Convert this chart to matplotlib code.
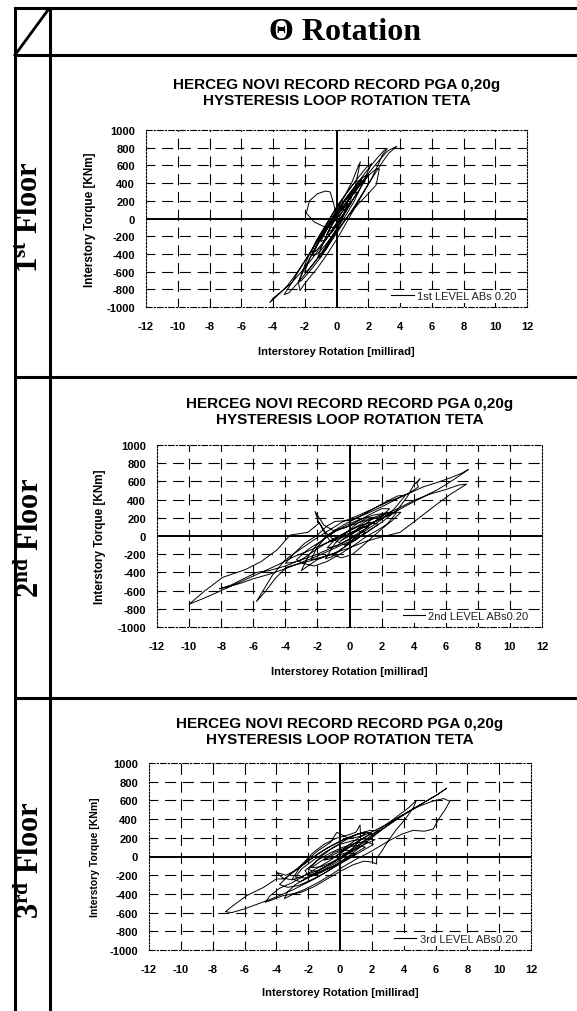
import matplotlib
matplotlib.use("Agg")
import matplotlib.pyplot as plt
from matplotlib.lines import Line2D

plt.rcParams['font.family'] = ['Liberation Sans', 'DejaVu Sans']
plt.rcParams['mathtext.fontset'] = 'custom'
plt.rcParams['mathtext.rm'] = 'Liberation Serif'
plt.rcParams['mathtext.bf'] = 'Liberation Serif:bold'

# ---------------------------------------------------------------- texts
header_text = "Θ Rotation"
floor_labels = [r"$\mathbf{1^{st}}$ Floor", r"$\mathbf{2^{nd}}$ Floor", r"$\mathbf{3^{rd}}$ Floor"]
chart_title = "HERCEG NOVI RECORD RECORD PGA 0,20g\nHYSTERESIS LOOP ROTATION TETA"
x_label = "Interstorey Rotation [millirad]"
y_label = "Interstory Torque [KNm]"
legend_labels = ["1st LEVEL ABs 0.20", "2nd LEVEL ABs0.20", "3rd LEVEL ABs0.20"]

x_ticks = [-12, -10, -8, -6, -4, -2, 0, 2, 4, 6, 8, 10, 12]
y_ticks = [-1000, -800, -600, -400, -200, 0, 200, 400, 600, 800, 1000]

# ---------------------------------------------------------------- data
# 1st floor: interstorey rotation [millirad] and torque [kNm]
floor1_rot = [0.0, 0.3, 0.6, 0.9, 0.6, 0.2, -0.2, -0.6, -0.3, 0.1, 0.6, 1.0, 1.3,
              1.0, 0.5, 0.0, -0.5, -1.0, -0.7, -0.3, -0.2, -0.8, -1.4, -1.9, -1.7,
              -1.2, -0.7, -0.4, -0.2, 0.0, 0.4, 0.9, 1.4, 1.8, 1.5, 1.0, 0.4, -0.2,
              -0.8, -1.2, -1.5, -1.2, -0.7, -0.1, 0.5, 1.1, 1.6, 1.9, 2.2, 1.9, 1.4,
              0.8, 0.1, -0.6, -1.3, -1.9, -2.4, -2.2, -1.7, -1.0, -0.3, 0.4, 1.1,
              1.8, 2.4, 2.9, 3.3, 3.8, 3.6, 3.2, 2.7, 2.1, 1.5, 0.8, 0.1, -0.6,
              -1.3, -1.9, -2.2, -2.4, -2.3, -2.1, -1.8, -1.2, -0.5, 0.2, 0.9, 1.6,
              2.2, 2.6, 2.9, 3.2, 3.0, 2.6, 2.0, 1.4, 0.7, 0.0, -0.7, -1.4, -2.0,
              -2.6, -3.1, -3.6, -4.2, -4.0, -3.5, -2.9, -2.3, -1.6, -0.9, -0.2,
              0.5, 1.2, 1.7, 2.0, 1.7, 1.2, 0.6, -0.1, -0.8, -1.5, -2.2, -2.8,
              -3.3, -3.0, -2.5, -1.9, -1.2, -0.5, 0.2, 0.8, 1.2, 1.5, 1.3, 1.0,
              0.5, -0.1, -0.7, -1.3, -1.7, -2.0, -1.8, -1.4, -0.8, -0.1, 0.6, 1.3,
              2.0, 2.5, 2.7, 2.5, 2.1, 1.5, 0.8, 0.1, -0.5, -0.9, -1.2, -1.0, -0.6,
              -0.1, 0.3, 0.6, 0.8, 0.6, 0.3, -0.1, -0.5, -0.3, 0.0, 0.2,
              0.7, 1.2, 1.6, 1.2, 0.6, 0.0, -0.6, -1.1, -1.6, -1.3, -0.8, -0.2,
              0.4, 0.9, 0.5, 0.0, -0.4, -0.1, 0.1]
floor1_torque = [0, 60, 120, 170, 140, 90, -20, -180, -160, -60, 80, 200, 300,
                 280, 200, 60, -90, -260, -240, -150, -100, -90, -40, 60, 200,
                 280, 310, 300, 180, 40, 120, 240, 360, 420, 400, 300, 170, 20,
                 -170, -300, -420, -400, -300, -150, 10, 190, 380, 500, 620, 580,
                 470, 330, 150, -60, -260, -480, -720, -700, -600, -440, -250, -60,
                 130, 330, 500, 640, 740, 815, 800, 760, 660, 530, 390, 230, 60,
                 -120, -320, -520, -640, -720, -815, -760, -690, -560, -380, -180,
                 40, 260, 450, 600, 720, 790, 770, 690, 560, 420, 260, 80, -110,
                 -310, -480, -640, -760, -850, -950, -900, -830, -740, -620, -470,
                 -300, -120, 70, 260, 400, 500, 470, 360, 220, 40, -150, -340,
                 -540, -720, -860, -840, -740, -610, -450, -270, -60, 160, 380, 640,
                 560, 420, 250, 60, -130, -320, -460, -600, -590, -500, -360, -170,
                 0, 150, 280, 380, 560, 560, 500, 380, 220, 40, -140, -300, -450,
                 -430, -330, -170, -20, 120, 250, 230, 140, 10, -150, -130, -50, 20,
                 200, 330, 430, 420, 280, 130, -50, -200, -380, -370, -260, -120,
                 40, 170, 160, 60, -60, -30, 30]

# 2nd floor
floor2_rot = [0.0, 0.5, 1.0, 1.5, 1.1, 0.5, -0.2, -0.9, -1.5, -1.1, -0.4, 0.4, 1.2,
              1.9, 2.5, 2.0, 1.3, 0.5, -0.3, -1.0, -1.6, -2.15, -1.9, -2.6, -3.7,
              -4.5, -5.5, -6.5, -7.9, -9.0, -10.0, -9.3, -8.5, -7.5, -6.5, -5.5,
              -4.5, -3.5, -2.5, -1.5, -0.5, 0.5, 1.5, 2.5, 3.5, 4.5, 5.5, 6.5,
              7.0, 7.4, 7.0, 6.3, 5.5, 4.6, 3.6, 2.6, 1.6, 0.6, -0.4, -1.3, -2.2,
              -3.1, -4.0, -4.8, -5.8, -5.2, -4.6, -3.9, -3.0, -2.0, -1.0, 0.0,
              1.0, 2.0, 3.15, 4.2, 5.3, 6.3, 7.3, 6.8, 6.0, 5.0, 4.0, 3.0, 2.0,
              1.0, 0.0, -1.0, -2.0, -3.0, -4.0, -5.0, -5.8, -6.6, -7.4, -8.1,
              -7.6, -6.8, -6.0, -5.0, -4.0, -3.0, -2.0, -1.0, 0.0, 1.0, 2.0, 3.0,
              3.6, 4.0, 4.4, 4.2, 4.3, 3.8, 3.0, 2.0, 1.0, 0.0, -0.9, -1.4, -2.0,
              -2.8, -3.5, -4.0, -3.5, -2.8, -2.0, -1.0, 0.0, 1.0, 2.0, 2.8, 3.5,
              3.0, 2.2, 1.4, 0.5, -0.4, -1.3, -2.1, -2.6, -3.0, -2.6, -2.0, -1.2,
              -0.5, 0.2, 0.8, 1.5, 2.3, 2.9, 2.4, 1.6, 0.8, 0.0, -0.8, -1.5, -2.0,
              -2.4, -1.8, -1.0, -0.3, 0.5, 1.2, 1.8, 1.2, 0.5, -0.2, -0.8, -1.4,
              -0.8, 0.0, 0.7, 1.2, 0.6, 0.0, -0.6, 0.0,
              0.8, 1.6, 2.2, 1.5, 0.6, -0.3, -1.0, -1.8, -2.6, -3.3, -2.9, -2.2,
              -1.4, -0.6, 0.3, 1.1, 1.9, 2.6, 3.2, 2.7, 2.0, 1.2, 0.4, -0.5, -1.2,
              -1.7, -1.9, -1.5, -1.0, -0.3, 0.4, 1.0, 0.5, 0.0]
floor2_torque = [0, 60, 130, 200, 200, 140, 40, -80, -250, -230, -130, -10, 110,
                 200, 300, 300, 240, 160, 90, 60, 120, 270, 140, 40, 10,
                 -150, -280, -370, -454, -600, -750, -700, -640, -560, -480, -400,
                 -320, -230, -160, -80, -20, 60, 150, 230, 330, 420, 510, 620,
                 680, 730, 690, 640, 590, 540, 460, 390, 310, 230, 160, 60, -40,
                 -150, -260, -430, -720, -600, -460, -340, -300, -250, -190, -130,
                 -60, -10, 40, 180, 330, 460, 570, 560, 510, 460, 390, 300, 220,
                 160, 60, -30, -140, -260, -330, -380, -400, -470, -540, -580,
                 -560, -520, -470, -420, -360, -290, -220, -140, -60, 30, 150, 290,
                 430, 560, 630, 580, 540, 480, 410, 320, 240, 170, 160, 110, 10,
                 -80, -200, -300, -290, -250, -200, -120, -40, 60, 180, 300, 450,
                 440, 370, 290, 200, 120, 20, -110, -230, -380, -330, -260, -200,
                 -240, -200, -110, 0, 120, 250, 260, 210, 160, 110, 60, -20, -120,
                 -260, -240, -200, -120, -30, 60, 130, 150, 100, 40, -20, -130,
                 -110, -30, 50, 100, 90, 20, -60, 0,
                 120, 160, 250, 230, 180, 110, 40, -60, -150, -260, -300, -330,
                 -280, -200, -100, 0, 80, 160, 260, 260, 200, 120, 60, 0, -60,
                 80, 150, 40, -40, -100, -40, 40, 60, 20]

# 3rd floor
floor3_rot = [0.0, 0.6, 1.1, 1.6, 1.1, 0.4, -0.4, -1.2, -2.0, -1.5, -0.7, 0.1, 0.8,
              1.3, 1.26, 1.0, 0.5, -0.3, -1.0, -1.7, -2.4, -3.0, -2.5, -1.8, -1.0,
              -0.2, 0.6, 1.4, 2.2, 3.0, 3.8, 4.5, 5.2, 6.0, 6.7, 6.2, 5.4, 4.6,
              3.8, 3.0, 2.2, 1.4, 0.6, -0.2, -0.6, -1.4, -2.2, -3.0, -3.5, -4.0,
              -4.8, -5.86, -6.6, -7.2, -6.8, -6.0, -5.2, -4.4, -3.7, -3.0, -2.3,
              -1.6, -0.9, -0.2, 0.5, 1.2, 2.0, 2.8, 3.5, 4.2, 5.0, 5.8, 6.5, 6.9,
              6.6, 6.2, 5.86, 5.3, 4.6, 3.9, 3.2, 2.5, 1.8, 1.0, 0.2, -0.6, -1.4,
              -2.2, -2.9, -3.5, -3.3, -2.8, -2.0, -1.2, -0.4, 0.4, 1.2, 2.0, 2.8,
              3.6, 4.3, 4.8, 4.6, 4.1, 3.5, 3.0, 2.6, 2.3, 2.3, 2.0, 1.5, 0.8, 0.0,
              -0.8, -1.6, -2.4, -3.0, -3.6, -4.2, -4.7, -4.4, -3.8, -3.0, -2.2,
              -1.4, -0.6, 0.2, 1.0, 1.8, 2.5, 1.9, 1.1, 0.3, -0.5, -1.3, -2.1,
              -2.8, -3.4, -4.0, -3.6, -3.0, -2.2, -1.4, -0.6, 0.2, 1.0, 1.8, 2.2,
              1.6, 0.8, 0.0, -0.8, -1.6, -2.4, -2.8, -2.2, -1.4, -0.6, 0.2, 1.0,
              1.6, 1.0, 0.3, -0.4, -1.2, -1.8, -1.2, -0.5, 0.2, 0.8, 0.2, -0.4,
              -1.0, -0.5, 0.0,
              0.6, 1.3, 2.0, 1.5, 0.8, 0.0, -0.8, -1.6, -2.4, -3.2, -3.8, -3.3,
              -2.6, -1.8, -1.0, -0.2, 0.6, 1.4, 2.1, 1.6, 0.9, 0.2, -0.6, -1.4,
              -2.2, -2.0, -1.3, -0.5, 0.3, 1.0, 0.4, 0.0]
floor3_torque = [50, 130, 190, 250, 240, 180, 100, 0, -140, -160, -90, 0, 90,
                 180, 337, 260, 230, 190, 130, 40, -90, -240, -270, -210, -140,
                 -60, 40, 140, 240, 330, 420, 500, 570, 650, 730, 670, 590, 510,
                 430, 350, 280, 220, 190, 259, 150, 60, -60, -170, -240, -240,
                 -330, -419, -510, -590, -600, -560, -510, -460, -410, -360, -300,
                 -240, -170, -90, 0, 90, 200, 310, 400, 470, 540, 590, 620, 590,
                 500, 400, 294, 270, 280, 240, 180, 110, 40, -30, -110, -200, -280,
                 -350, -400, -450, -380, -300, -220, -140, -60, 30, 130, 230, 330,
                 430, 520, 600, 520, 400, 280, 160, 50, -20, -80, -60, -50, -90, -160,
                 -240, -320, -380, -400, -420, -460, -490, -420, -340, -280, -200,
                 -120, -40, 60, 150, 230, 270, 280, 240, 190, 120, 40, -60,
                 -150, -200, -170, -230, -250, -200, -150, -80, 0, 80, 150, 180,
                 190, 170, 130, 60, -30, -130, -220, -230, -190, -120, -40, 40,
                 100, 120, 90, 40, -50, -120, -110, -60, 10, 60, 70, 20,
                 -40, -20, 30,
                 100, 180, 250, 260, 220, 160, 90, 0, -100, -200, -300, -330,
                 -310, -250, -180, -100, -20, 60, 130, 160, 140, 100, 40, -40,
                 -150, -200, -170, -110, -40, 30, 40, 20]

rotations = [floor1_rot, floor2_rot, floor3_rot]
torques = [floor1_torque, floor2_torque, floor3_torque]

# ---------------------------------------------------------------- layout (pixels)
W, H = 577, 1012
fig = plt.figure(figsize=(W / 100, H / 100), dpi=100)


def fx(px):
    return px / W


def fy(py):
    return 1 - py / H


def table_line(x0, y0, x1, y1):
    fig.add_artist(Line2D([fx(x0), fx(x1)], [fy(y0), fy(y1)], color='black',
                          lw=2.2, solid_capstyle='projecting'))


# table frame
col_x, left_x = 50, 15
top_y, head_y = 9, 56
row_lines = [378, 699]
table_line(left_x, top_y, W + 5, top_y)
table_line(left_x, head_y, W + 5, head_y)
for ry in row_lines:
    table_line(left_x, ry, W + 5, ry)
table_line(left_x, top_y, left_x, H + 5)
table_line(col_x, top_y, col_x, H + 5)
fig.add_artist(Line2D([fx(left_x), fx(48)], [fy(head_y), fy(11)], color='black', lw=2.0))

fig.text(fx(345), fy(33), header_text, ha='center', va='center', fontsize=23,
         fontweight='bold', family=['Liberation Serif', 'DejaVu Serif'])

row_centres = [217, 538, 860]
for lab, cy in zip(floor_labels, row_centres):
    fig.text(fx(31), fy(cy), lab, rotation=90, ha='center', va='center', fontsize=22,
             fontweight='bold', family=['Liberation Serif', 'DejaVu Serif'])

# axes boxes: left, right, top, bottom
boxes = [(146, 527, 131, 308), (157, 542, 446, 628), (149, 531, 764, 951)]
title_y = [93, 412, 732]
xlabel_y = [352, 672, 993]
ylabel_x = [90, 100, 95]
ylabel_size = [8.5, 8.5, 7.5]
legend_inset = [(9, 4), (12, 4), (12, 4)]   # pixels from right / bottom edge

for i, (l, r, t, b) in enumerate(boxes):
    ax = fig.add_axes([fx(l), fy(b), (r - l) / W, (b - t) / H])
    ax.set_xlim(x_ticks[0], x_ticks[-1])
    ax.set_ylim(y_ticks[0], y_ticks[-1])
    ax.set_xticks(x_ticks)
    ax.set_yticks(y_ticks)
    ax.set_xticklabels([str(v) for v in x_ticks], fontweight='bold', fontsize=8)
    ax.set_yticklabels([str(v) for v in y_ticks], fontweight='bold', fontsize=8)
    ax.tick_params(length=0)
    ax.tick_params(axis='x', pad=10)
    ax.tick_params(axis='y', pad=8)
    for side in ('top', 'bottom'):
        ax.spines[side].set_linestyle((0, (5, 2, 1, 2)))
        ax.spines[side].set_linewidth(0.8)
    for side in ('left', 'right'):
        ax.spines[side].set_linestyle((0, (1.5, 1.5)))
        ax.spines[side].set_linewidth(0.8)
    for xv in x_ticks[1:-1]:
        if xv != 0:
            ax.axvline(xv, color='black', lw=0.8, ls=(2, (10, 6)), zorder=1)
    for yv in y_ticks[1:-1]:
        if yv != 0:
            ax.axhline(yv, color='black', lw=0.8, ls=(2, (10, 6)), zorder=1)
    ax.axhline(0, color='black', lw=1.4, zorder=2)
    ax.axvline(0, color='black', lw=1.4, zorder=2)
    ax.plot(rotations[i], torques[i], color='black', lw=0.7, zorder=3)

    dx, dy = legend_inset[i]
    leg = ax.legend(handles=[Line2D([], [], color='black', lw=0.8)],
                    labels=[legend_labels[i]], loc='lower right',
                    bbox_to_anchor=(1 - dx / (r - l), dy / (b - t)),
                    frameon=True, fancybox=False, fontsize=8, handlelength=2.0,
                    handletextpad=0.3, borderpad=0.15, borderaxespad=0.0,
                    labelcolor='#222222')
    leg.get_frame().set_facecolor('white')
    leg.get_frame().set_edgecolor('none')
    leg.get_frame().set_alpha(1)
    leg.set_zorder(5)

    cx = (l + r) / 2
    fig.text(fx(cx), fy(title_y[i]), chart_title, ha='center', va='center',
             fontsize=11, fontweight='bold', linespacing=1.2)
    fig.text(fx(cx), fy(xlabel_y[i]), x_label, ha='center', va='center',
             fontsize=8, fontweight='bold')
    fig.text(fx(ylabel_x[i]), fy((t + b) / 2), y_label, ha='center', va='center',
             rotation=90, fontsize=ylabel_size[i], fontweight='bold')

fig.savefig("out.png", dpi=100)
